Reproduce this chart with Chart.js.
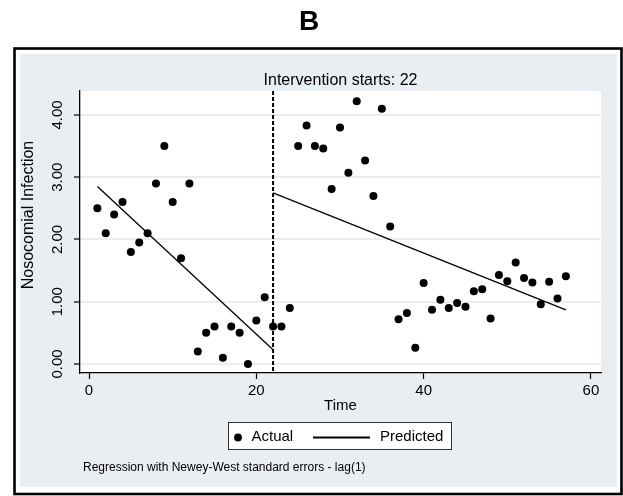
<!DOCTYPE html>
<html>
<head>
<meta charset="utf-8">
<script src="https://cdn.jsdelivr.net/npm/chart.js@4.4.1/dist/chart.umd.min.js"></script>
<style>
  body { margin: 0; background: #fff; }
  #wrap { width: 623px; height: 496px; }
</style>
</head>
<body>
<div id="wrap"><canvas id="myChart"></canvas></div>
<script>
// values
const timePoints = [1, 2, 3, 4, 5, 6, 7, 8, 9, 10, 11, 12, 13, 14, 15, 16, 17, 18, 19, 20,
  21, 22, 23, 24, 25, 26, 27, 28, 29, 30, 31, 32, 33, 34, 35, 36, 37, 38, 39, 40,
  41, 42, 43, 44, 45, 46, 47, 48, 49, 50, 51, 52, 53, 54, 55, 56, 57];
const actualValues = [2.50, 2.10, 2.40, 2.60, 1.80, 1.95, 2.10, 2.90, 3.50, 2.60, 1.70, 2.90, 0.20, 0.50, 0.60, 0.10, 0.60, 0.50, 0.00, 0.70,
  1.07, 0.60, 0.60, 0.90, 3.50, 3.83, 3.50, 3.46, 2.81, 3.80, 3.07, 4.22, 3.27, 2.70, 4.10, 2.21, 0.72, 0.82, 0.26, 1.30,
  0.87, 1.03, 0.90, 0.98, 0.92, 1.17, 1.20, 0.73, 1.43, 1.33, 1.63, 1.38, 1.31, 0.96, 1.32, 1.05, 1.41];
const preTime = [1, 22];
const preFit = [2.85, 0.23];
const postTime = [22, 57];
const postFit = [2.75, 0.87];
const interventionAt = 22;
const xTicks = [0, 20, 40, 60];
const yTicks = [0, 1, 2, 3, 4];

const FONT = "'Liberation Sans', Arial, Helvetica, sans-serif";
const bgGrey = '#e9eef2';

function toXY(xs, ys) {
  return xs.map((x, i) => ({ x: x, y: ys[i] }));
}

const decorations = {
  id: 'decorations',
  beforeDraw(chart) {
    const c = chart.ctx;
    const area = chart.chartArea;
    c.save();
    c.fillStyle = '#fff';
    c.fillRect(0, 0, chart.width, chart.height);
    // outer frame
    c.strokeStyle = '#000';
    c.lineWidth = 2.6;
    c.strokeRect(14.5, 48.5, 607, 445.5);
    c.fillStyle = bgGrey;
    c.fillRect(20, 54, 597, 433);
    // plot region
    c.fillStyle = '#fff';
    c.fillRect(area.left, area.top, area.right - area.left, area.bottom - area.top);
    c.restore();
  },
  beforeDatasetsDraw(chart) {
    // dashed intervention line
    const c = chart.ctx;
    const area = chart.chartArea;
    const px = chart.scales.x.getPixelForValue(interventionAt);
    c.save();
    c.strokeStyle = '#000';
    c.lineWidth = 2;
    c.setLineDash([4, 2]);
    c.beginPath();
    c.moveTo(px, area.top);
    c.lineTo(px, area.bottom);
    c.stroke();
    c.restore();
  },
  afterDraw(chart) {
    const c = chart.ctx;
    const ys = chart.scales.y;
    c.save();
    c.fillStyle = '#000';
    // rotated y tick labels
    c.font = '15px ' + FONT;
    c.textAlign = 'center';
    c.textBaseline = 'middle';
    ys.ticks.forEach(t => {
      c.save();
      c.translate(57.5, ys.getPixelForValue(t.value));
      c.rotate(-Math.PI / 2);
      c.fillText(t.value.toFixed(2), 0, 0);
      c.restore();
    });
    // y axis title
    c.font = '16px ' + FONT;
    c.save();
    c.translate(29, 215);
    c.rotate(-Math.PI / 2);
    c.fillText('Nosocomial Infection', 0, 0);
    c.restore();

    // legend box
    c.fillStyle = '#fff';
    c.fillRect(228.5, 422.5, 223, 27);
    c.strokeStyle = '#333';
    c.lineWidth = 1;
    c.strokeRect(228.5, 422.5, 223, 27);
    c.fillStyle = '#000';
    c.beginPath();
    c.arc(238, 437.5, 3.9, 0, Math.PI * 2);
    c.fill();
    c.strokeStyle = '#000';
    c.lineWidth = 2;
    c.beginPath();
    c.moveTo(313, 437.5);
    c.lineTo(370, 437.5);
    c.stroke();
    c.font = '15px ' + FONT;
    c.textAlign = 'left';
    c.fillText('Actual', 251.5, 437);
    c.fillText('Predicted', 380, 437);

    // note
    c.font = '12px ' + FONT;
    c.textBaseline = 'alphabetic';
    c.fillText('Regression with Newey-West standard errors - lag(1)', 83, 470.5);
    c.restore();
  }
};

const ctx = document.getElementById('myChart');
const myChart = new Chart(ctx, {
  type: 'scatter',
  data: {
    datasets: [
      {
        label: 'Actual',
        data: toXY(timePoints, actualValues),
        backgroundColor: '#000',
        borderWidth: 0,
        pointRadius: 4,
        showLine: false
      },
      {
        label: 'Predicted',
        data: toXY(preTime, preFit),
        borderColor: '#000',
        borderWidth: 1.3,
        pointRadius: 0,
        showLine: true
      },
      {
        label: 'Predicted',
        data: toXY(postTime, postFit),
        borderColor: '#000',
        borderWidth: 1.3,
        pointRadius: 0,
        showLine: true
      }
    ]
  },
  options: {
    responsive: true,
    maintainAspectRatio: false,
    animation: false,
    layout: {
      padding: { left: 17, right: 22, top: 0, bottom: 81 }
    },
    plugins: {
      legend: { display: false },
      tooltip: { enabled: false },
      title: {
        display: true,
        text: 'B',
        color: '#000',
        font: { family: FONT, size: 28, weight: 'bold' },
        padding: { top: 5, bottom: 0 }
      },
      subtitle: {
        display: true,
        text: 'Intervention starts: 22',
        color: '#000',
        fullSize: false,
        font: { family: FONT, size: 16 },
        padding: { top: 32.8, bottom: 0.4 }
      }
    },
    scales: {
      x: {
        type: 'linear',
        min: -1.08,
        max: 61.2,
        afterBuildTicks: scale => { scale.ticks = xTicks.map(v => ({ value: v })); },
        afterFit: scale => { scale.height = 42; },
        border: { display: true, color: '#000', width: 1.3 },
        grid: { drawOnChartArea: false, drawTicks: true, tickLength: 6, tickColor: '#000', tickWidth: 1.2 },
        ticks: { color: '#000', padding: 3, maxRotation: 0, font: { family: FONT, size: 15 } },
        title: {
          display: true,
          text: 'Time',
          color: '#000',
          font: { family: FONT, size: 15 },
          padding: { top: 0, bottom: 0 }
        }
      },
      y: {
        type: 'linear',
        min: -0.145,
        max: 4.385,
        afterBuildTicks: scale => { scale.ticks = yTicks.map(v => ({ value: v })); },
        afterFit: scale => { scale.width = 63; },
        border: { display: true, color: '#000', width: 1.3 },
        grid: { color: bgGrey, lineWidth: 2, drawTicks: true, tickLength: 6, tickColor: '#000', tickWidth: 1.2 },
        ticks: { display: false }
      }
    }
  },
  plugins: [decorations]
});
</script>
</body>
</html>
